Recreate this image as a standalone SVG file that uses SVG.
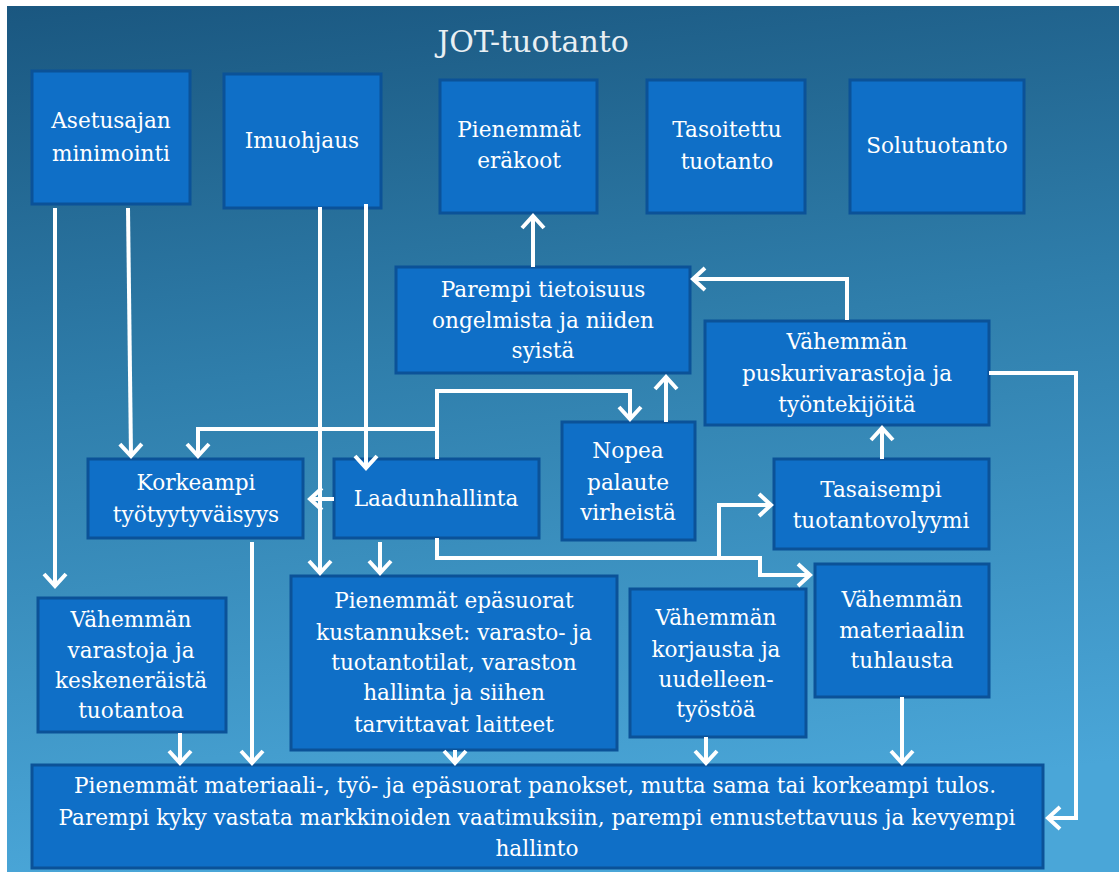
<svg xmlns="http://www.w3.org/2000/svg" width="1119" height="872" viewBox="0 0 1119 872">
  <defs>
    <linearGradient id="bg" x1="0" y1="0" x2="0.15" y2="1">
      <stop offset="0" stop-color="#1a5780"/>
      <stop offset="0.45" stop-color="#2f7eab"/>
      <stop offset="1" stop-color="#4aa6d8"/>
    </linearGradient>
    <marker id="arr" markerUnits="userSpaceOnUse" markerWidth="22" markerHeight="32" viewBox="-17 -16 22 32" refX="0" refY="0" orient="auto">
      <path d="M-12,-11 L0,0 L-12,11" fill="none" stroke="#ffffff" stroke-width="4"/>
    </marker>
    <style>
      .box { fill: #0f6fc7; stroke: #0b5298; stroke-width: 3; }
      .lbl { font-family: "DejaVu Serif", "Liberation Serif", serif; font-size: 21.6px; fill: #ffffff; text-anchor: middle; }
      .title { font-family: "DejaVu Serif", "Liberation Serif", serif; font-size: 30px; fill: #e9eff3; text-anchor: middle; }
      .wire { fill: none; stroke: #ffffff; stroke-width: 4; marker-end: url(#arr); }
    </style>
  </defs>

  <!-- slide background -->
  <rect x="0" y="0" width="1119" height="872" fill="#ffffff"/>
  <rect x="7" y="6" width="1112" height="866" fill="url(#bg)"/>

  <text class="title" x="533" y="52">JOT-tuotanto</text>

  <!-- top row -->
  <g id="n-asetus">
    <rect class="box" x="32" y="71" width="158" height="133"/>
    <text class="lbl"><tspan x="111" y="128">Asetusajan</tspan><tspan x="111" y="161">minimointi</tspan></text>
  </g>
  <g id="n-imu">
    <rect class="box" x="224" y="74" width="157" height="134"/>
    <text class="lbl" x="302" y="148">Imuohjaus</text>
  </g>
  <g id="n-erakoot">
    <rect class="box" x="440" y="80" width="157" height="133"/>
    <text class="lbl"><tspan x="519" y="137">Pienemmät</tspan><tspan x="519" y="168">eräkoot</tspan></text>
  </g>
  <g id="n-tasoitettu">
    <rect class="box" x="647" y="80" width="158" height="133"/>
    <text class="lbl"><tspan x="727" y="137">Tasoitettu</tspan><tspan x="727" y="169">tuotanto</tspan></text>
  </g>
  <g id="n-solu">
    <rect class="box" x="850" y="80" width="174" height="133"/>
    <text class="lbl" x="937" y="153">Solutuotanto</text>
  </g>

  <!-- middle -->
  <g id="n-tietoisuus">
    <rect class="box" x="396" y="267" width="294" height="106"/>
    <text class="lbl"><tspan x="543" y="297">Parempi tietoisuus</tspan><tspan x="543" y="328">ongelmista ja niiden</tspan><tspan x="543" y="358">syistä</tspan></text>
  </g>
  <g id="n-puskuri">
    <rect class="box" x="705" y="321" width="284" height="104"/>
    <text class="lbl"><tspan x="847" y="349">Vähemmän</tspan><tspan x="847" y="381">puskurivarastoja ja</tspan><tspan x="847" y="412">työntekijöitä</tspan></text>
  </g>
  <g id="n-nopea">
    <rect class="box" x="562" y="422" width="133" height="118"/>
    <text class="lbl"><tspan x="628" y="458">Nopea</tspan><tspan x="628" y="490">palaute</tspan><tspan x="628" y="520">virheistä</tspan></text>
  </g>
  <g id="n-tyytyvaisyys">
    <rect class="box" x="88" y="459" width="215" height="79"/>
    <text class="lbl"><tspan x="196" y="490">Korkeampi</tspan><tspan x="196" y="522">työtyytyväisyys</tspan></text>
  </g>
  <g id="n-laatu">
    <rect class="box" x="334" y="459" width="205" height="79"/>
    <text class="lbl" x="436" y="506">Laadunhallinta</text>
  </g>
  <g id="n-tasaisempi">
    <rect class="box" x="774" y="459" width="215" height="90"/>
    <text class="lbl"><tspan x="881" y="497">Tasaisempi</tspan><tspan x="881" y="528">tuotantovolyymi</tspan></text>
  </g>

  <!-- lower row -->
  <g id="n-varastot">
    <rect class="box" x="38" y="598" width="188" height="134"/>
    <text class="lbl"><tspan x="131" y="627">Vähemmän</tspan><tspan x="131" y="658">varastoja ja</tspan><tspan x="131" y="688">keskeneräistä</tspan><tspan x="131" y="718">tuotantoa</tspan></text>
  </g>
  <g id="n-epasuorat">
    <rect class="box" x="291" y="576" width="326" height="174"/>
    <text class="lbl"><tspan x="454" y="608">Pienemmät epäsuorat</tspan><tspan x="454" y="640">kustannukset: varasto- ja</tspan><tspan x="454" y="670">tuotantotilat, varaston</tspan><tspan x="454" y="700">hallinta ja siihen</tspan><tspan x="454" y="732">tarvittavat laitteet</tspan></text>
  </g>
  <g id="n-korjaus">
    <rect class="box" x="630" y="589" width="176" height="148"/>
    <text class="lbl"><tspan x="716" y="625">Vähemmän</tspan><tspan x="716" y="657">korjausta ja</tspan><tspan x="716" y="687">uudelleen-</tspan><tspan x="716" y="717">työstöä</tspan></text>
  </g>
  <g id="n-tuhlaus">
    <rect class="box" x="815" y="564" width="174" height="133"/>
    <text class="lbl"><tspan x="902" y="607">Vähemmän</tspan><tspan x="902" y="638">materiaalin</tspan><tspan x="902" y="668">tuhlausta</tspan></text>
  </g>

  <!-- result -->
  <g id="n-tulos">
    <rect class="box" x="32" y="765" width="1011" height="103"/>
    <text class="lbl"><tspan x="535" y="793" textLength="922" lengthAdjust="spacing">Pienemmät materiaali-, työ- ja epäsuorat panokset, mutta sama tai korkeampi tulos.</tspan><tspan x="537" y="825" textLength="957" lengthAdjust="spacing">Parempi kyky vastata markkinoiden vaatimuksiin, parempi ennustettavuus ja kevyempi</tspan><tspan x="537" y="856">hallinto</tspan></text>
  </g>

  <!-- connectors, drawn over the boxes -->
  <g id="connectors">
    <path class="wire" d="M55,208 V586"/>
    <path class="wire" d="M128,208 L131,456"/>
    <path class="wire" d="M320,207 V573"/>
    <path class="wire" d="M366,204 V468"/>
    <path class="wire" d="M334,499 H310"/>
    <path class="wire" d="M437,459 V391 H630 V419"/>
    <path class="wire" d="M437,429 H198 V456"/>
    <path class="wire" d="M666,422 V377"/>
    <path class="wire" d="M533,267 V216"/>
    <path class="wire" d="M847,320 V279 H693"/>
    <path class="wire" d="M882,459 V428"/>
    <path class="wire" d="M989,373 H1076 V818 H1048"/>
    <path class="wire" d="M437,538 V558 H760 V575 H810"/>
    <path class="wire" d="M719,558 V505 H771"/>
    <path class="wire" d="M380,542 V573"/>
    <path class="wire" d="M252,542 V763"/>
    <path class="wire" d="M180,733 V763"/>
    <path class="wire" d="M455,750 V763"/>
    <path class="wire" d="M706,737 V763"/>
    <path class="wire" d="M902,697 V763"/>
  </g>
</svg>
